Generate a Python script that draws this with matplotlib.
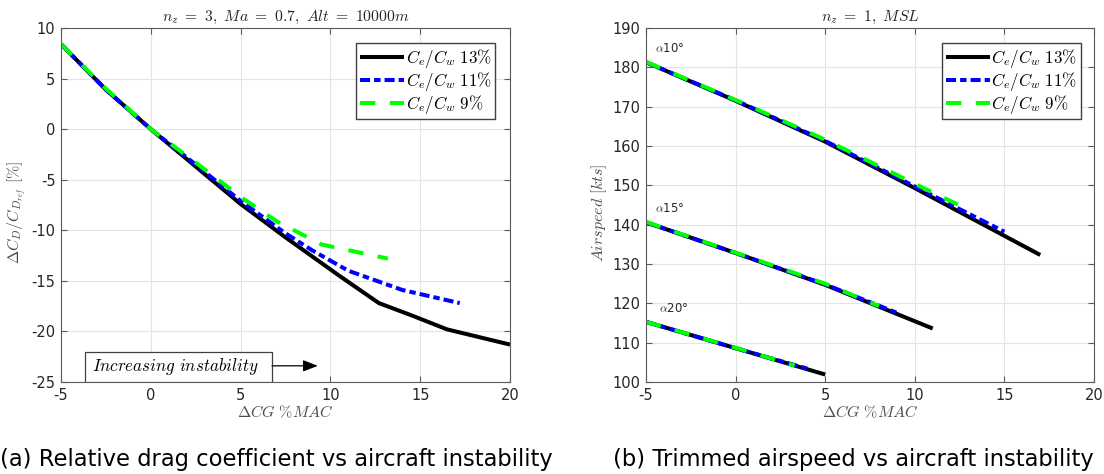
import matplotlib
matplotlib.use("Agg")
import matplotlib.pyplot as plt
from matplotlib.patches import Rectangle

plt.rcParams['mathtext.fontset'] = 'cm'
plt.rcParams['font.family'] = ['DejaVu Sans']

# ---------------- data: (a) relative drag ----------------
drag_x_13 = [-5, -2.5, 0, 2.5, 5, 7.5, 9, 10.5, 12.7, 14.5, 16.5, 20]
drag_y_13 = [8.4, 3.9, 0, -3.7, -7.4, -10.7, -12.6, -14.5, -17.2, -18.4, -19.8, -21.3]
drag_x_11 = [-5, -2.5, 0, 2.5, 5, 7.5, 9, 11, 14, 17.2]
drag_y_11 = [8.4, 3.9, 0, -3.5, -7.1, -10.3, -12.0, -14.0, -15.9, -17.2]
drag_x_9 = [-5, -2.5, 0, 2.5, 5, 7, 9.5, 13.2]
drag_y_9 = [8.4, 4.0, 0, -3.3, -6.7, -9.1, -11.4, -12.8]

# ---------------- data: (b) trimmed airspeed ----------------
a10_x_13 = [-5, 0, 5, 10, 17]
a10_y_13 = [181.3, 171.5, 161.1, 149.3, 132.3]
a10_x_11 = [-5, 0, 5, 10, 15]
a10_y_11 = [181.3, 171.6, 161.3, 149.7, 138.2]
a10_x_9 = [-5, 0, 5, 10, 13]
a10_y_9 = [181.4, 171.7, 161.6, 150.4, 143.8]

a15_x_13 = [-5, 0, 5, 11]
a15_y_13 = [140.6, 132.8, 124.7, 113.6]
a15_x_11 = [-5, 0, 5, 9]
a15_y_11 = [140.6, 132.8, 124.8, 117.6]
a15_x_9 = [-5, 0, 5, 8]
a15_y_9 = [140.7, 132.9, 125.0, 119.3]

a20_x_13 = [-5, 0, 5]
a20_y_13 = [115.3, 108.6, 101.9]
a20_x_11 = [-5, 0, 4]
a20_y_11 = [115.3, 108.6, 103.4]
a20_x_9 = [-5, 0, 3.3]
a20_y_9 = [115.3, 108.7, 104.2]

legend_labels = [r"$C_e/C_w\ 13\%$", r"$C_e/C_w\ 11\%$", r"$C_e/C_w\ 9\%$"]
xticks = [-5, 0, 5, 10, 15, 20]
yticks_a = [-25, -20, -15, -10, -5, 0, 5, 10]
yticks_b = list(range(100, 191, 10))
alpha_labels = [r"$\alpha$10°", r"$\alpha$15°", r"$\alpha$20°"]
alpha_label_pos = [(-4.5, 184.8), (-4.5, 144.2), (-4.3, 118.6)]

# ---------------- styles ----------------
LW = 2.9
style13 = dict(color='black', lw=LW, ls='-', solid_capstyle='butt')
style11 = dict(color='#0000ff', lw=LW, dashes=(2.5, 1.0, 1.6, 1.0), dash_capstyle='butt')
style9 = dict(color='#00ff00', lw=LW, dashes=(3.8, 3.6), dash_capstyle='butt')
SPINE = '#5a5a5a'
TICKC = '#262626'
LABC = '#4d4d4d'

W, H = 1104, 474
fig = plt.figure(figsize=(W / 100, H / 100), dpi=100)
axA = fig.add_axes([61 / W, (H - 382) / H, 449 / W, 354 / H])
axB = fig.add_axes([646 / W, (H - 382) / H, 448 / W, 354 / H])


def style_axes(ax, yticks, ylim):
    ax.set_xlim(-5, 20)
    ax.set_ylim(*ylim)
    ax.set_xticks(xticks)
    ax.set_yticks(yticks)
    ax.grid(True, color='#e3e3e3', lw=0.8)
    ax.set_axisbelow(True)
    ax.tick_params(direction='in', length=4, width=0.8, top=True, right=True,
                   colors=SPINE, labelcolor=TICKC, labelsize=10.5, pad=4)
    for s in ax.spines.values():
        s.set_color(SPINE)
        s.set_linewidth(0.8)


LEG = dict(fontsize=12.2, frameon=True, fancybox=False, framealpha=1,
           edgecolor='#404040', handlelength=2.6, handletextpad=0.1,
           borderpad=0.22, labelspacing=0.0, borderaxespad=0.0, loc='upper right')

# ---------------- (a) ----------------
l1, = axA.plot(drag_x_13, drag_y_13, **style13)
l2, = axA.plot(drag_x_11, drag_y_11, **style11)
l3, = axA.plot(drag_x_9, drag_y_9, **style9)
style_axes(axA, yticks_a, (-25, 10))
axA.set_title(r"$n_z\ =\ 3,\ Ma\ =\ 0.7,\ Alt\ =\ 10000m$", fontsize=11.3,
              color='#262626', pad=5)
axA.set_xlabel(r"$\Delta CG\ \%MAC$", fontsize=11.5, color=LABC, labelpad=1)
axA.set_ylabel(r"$\Delta C_D/C_{D_{ref}}\ [\%]$", fontsize=11.5, color=LABC)
axA.yaxis.set_label_coords(-0.071, 0.48)
axA.set_yticklabels([str(v) for v in yticks_a])
axA.set_xticklabels([str(v) for v in xticks])
axA.legend([l1, l2, l3], legend_labels, bbox_to_anchor=(0.967, 0.958), **LEG)

# annotation box + arrow
axA.add_patch(Rectangle((-3.66, -25), 10.41, 2.95, fill=True, facecolor='white',
                        edgecolor='#404040', lw=0.9, zorder=5))
axA.text((-3.66 + 6.75) / 2 - 0.15, -23.45, r"$Increasing\ instability$", ha='center',
         va='center', fontsize=12.3, color='black', zorder=6)
axA.annotate('', xy=(9.3, -23.4), xytext=(6.75, -23.4),
             arrowprops=dict(arrowstyle='-|>,head_length=0.9,head_width=0.35',
                             color='black', lw=0.9, shrinkA=0, shrinkB=0), zorder=6)

# ---------------- (b) ----------------
for (x13, y13, x11, y11, x9, y9) in [
        (a10_x_13, a10_y_13, a10_x_11, a10_y_11, a10_x_9, a10_y_9),
        (a15_x_13, a15_y_13, a15_x_11, a15_y_11, a15_x_9, a15_y_9),
        (a20_x_13, a20_y_13, a20_x_11, a20_y_11, a20_x_9, a20_y_9)]:
    m1, = axB.plot(x13, y13, **style13)
    m2, = axB.plot(x11, y11, **style11)
    m3, = axB.plot(x9, y9, **style9)
style_axes(axB, yticks_b, (100, 190))
axB.set_title(r"$n_z\ =\ 1,\ MSL$", fontsize=11.3, color='#262626', pad=5)
axB.set_xlabel(r"$\Delta CG\ \%MAC$", fontsize=11.5, color=LABC, labelpad=1)
axB.set_ylabel(r"$Airspeed\ [kts]$", fontsize=11.5, color=LABC)
axB.yaxis.set_label_coords(-0.083, 0.477)
axB.set_xticklabels([str(v) for v in xticks])
for lab, (tx, ty) in zip(alpha_labels, alpha_label_pos):
    axB.text(tx, ty, lab, fontsize=8.5, color='#262626', ha='left', va='center')
axB.legend([m1, m2, m3], legend_labels, bbox_to_anchor=(0.971, 0.958), **LEG)

# ---------------- captions ----------------
fig.text(0 / W, 1 - 466 / H, "(a) Relative drag coefficient vs aircraft instability",
         fontsize=16.3, family='DejaVu Sans', ha='left', va='baseline', color='black')
fig.text(613 / W, 1 - 466 / H, "(b) Trimmed airspeed vs aircraft instability",
         fontsize=16.3, family='DejaVu Sans', ha='left', va='baseline', color='black')

fig.savefig("out.png", dpi=100)
